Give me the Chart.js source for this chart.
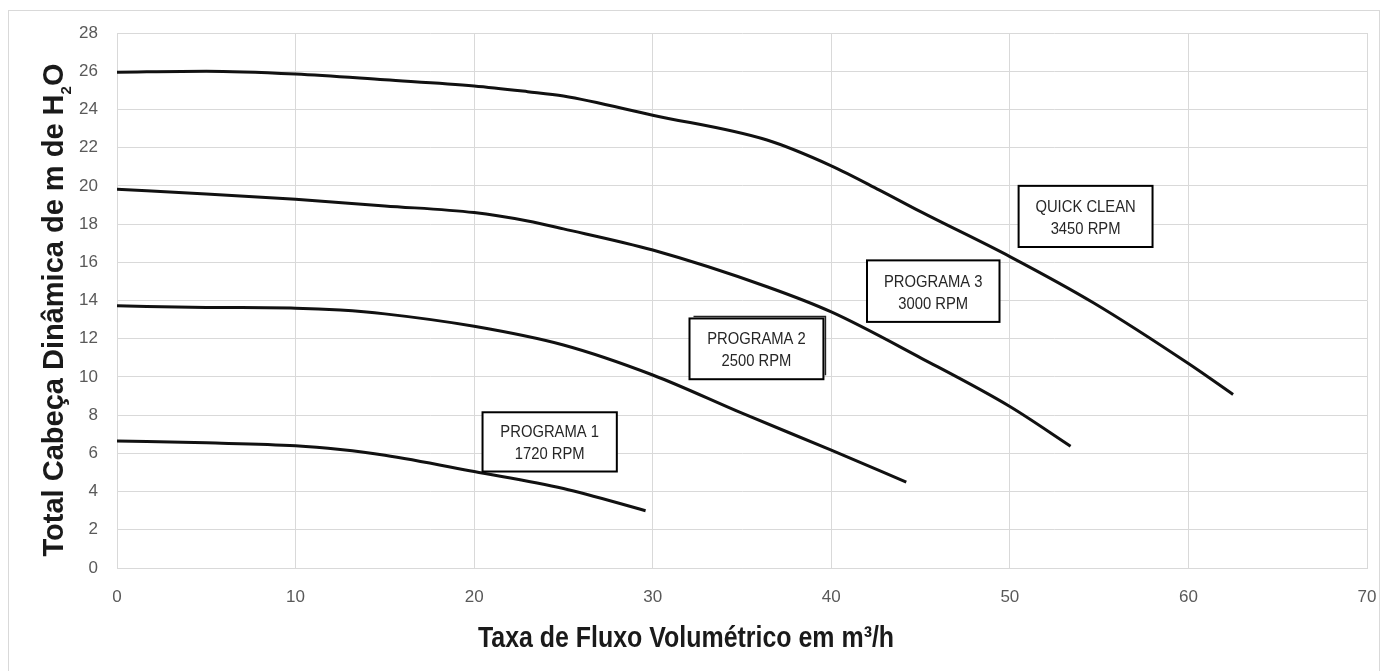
<!DOCTYPE html>
<html>
<head>
<meta charset="utf-8">
<script src="https://cdn.jsdelivr.net/npm/chart.js@4.4.1/dist/chart.umd.min.js"></script>
<style>
  html, body { margin: 0; padding: 0; background: #ffffff; }
  #wrap { width: 1388px; height: 671px; }
</style>
</head>
<body>
<div id="wrap"><canvas id="c" width="1388" height="671"></canvas></div>
<script>
// ---- data ----
const xTicks = [0, 10, 20, 30, 40, 50, 60, 70];
const yTicks = [0, 2, 4, 6, 8, 10, 12, 14, 16, 18, 20, 22, 24, 26, 28];

const flowP1 = [0, 5, 10, 12.5, 15, 20, 25, 29.6];
const headP1 = [6.65, 6.55, 6.4, 6.2, 5.9, 5.05, 4.16, 3.0];

const flowP2 = [0, 5, 10, 12.5, 15, 20, 25, 30, 35, 40, 44.2];
const headP2 = [13.72, 13.64, 13.6, 13.5, 13.3, 12.65, 11.67, 10.1, 8.1, 6.17, 4.5];

const flowP3 = [0, 5, 10, 15, 20, 23, 25, 30, 36.4, 40, 45, 50, 53.4];
const headP3 = [19.82, 19.58, 19.3, 18.95, 18.6, 18.16, 17.75, 16.64, 14.72, 13.4, 11.0, 8.45, 6.37];

const flowQC = [0, 5, 10, 15, 20, 23, 25, 30, 36.4, 40, 42.7, 45, 50, 54.7, 60, 62.5];
const headQC = [25.95, 26.0, 25.85, 25.55, 25.23, 24.93, 24.7, 23.7, 22.4, 21.05, 19.78, 18.65, 16.3, 13.87, 10.7, 9.08];

const seriesNames = ['PROGRAMA 1', 'PROGRAMA 2', 'PROGRAMA 3', 'QUICK CLEAN'];
const seriesRpm = ['1720 RPM', '2500 RPM', '3000 RPM', '3450 RPM'];

const xTitle = 'Taxa de Fluxo Volumétrico em m³/h';
const yTitleMain = 'Total Cabeça Dinâmica de m de H';
const yTitleSub = '2';
const yTitleEnd = 'O';

// ---- build ----
function pts(xs, ys) { return xs.map((x, i) => ({ x: x, y: ys[i] })); }

const curveStyle = {
  showLine: true,
  borderColor: '#111111',
  borderWidth: 3,
  pointRadius: 0,
  pointHoverRadius: 0,
  fill: false,
  cubicInterpolationMode: 'monotone'
};

const datasets = [
  Object.assign({ label: seriesNames[0], data: pts(flowP1, headP1) }, curveStyle),
  Object.assign({ label: seriesNames[1], data: pts(flowP2, headP2) }, curveStyle),
  Object.assign({ label: seriesNames[2], data: pts(flowP3, headP3) }, curveStyle),
  Object.assign({ label: seriesNames[3], data: pts(flowQC, headQC) }, curveStyle)
];

// label boxes in data coordinates (corners)
const boxes = [
  { x0: 20.47, x1: 27.99, y0: 8.15, y1: 5.05, lines: [seriesNames[0], seriesRpm[0]] },
  { x0: 32.06, x1: 39.56, y0: 13.06, y1: 9.88, lines: [seriesNames[1], seriesRpm[1]], shadow: true },
  { x0: 42.0, x1: 49.42, y0: 16.1, y1: 12.88, lines: [seriesNames[2], seriesRpm[2]] },
  { x0: 50.49, x1: 57.99, y0: 20.0, y1: 16.8, lines: [seriesNames[3], seriesRpm[3]] }
];

const FONT = '"Liberation Sans", Arial, Helvetica, sans-serif';

const framePlugin = {
  id: 'frame',
  beforeDraw(chart) {
    const ctx = chart.ctx;
    ctx.save();
    ctx.fillStyle = '#ffffff';
    ctx.fillRect(0, 0, chart.width, chart.height);
    ctx.strokeStyle = '#d9d9d9';
    ctx.lineWidth = 1;
    ctx.strokeRect(8.5, 10.5, chart.width - 17, chart.height + 20);
    ctx.restore();
  }
};

const boxPlugin = {
  id: 'boxes',
  afterDatasetsDraw(chart) {
    const ctx = chart.ctx;
    const xs = chart.scales.x, ys = chart.scales.y;
    ctx.save();
    boxes.forEach(b => {
      const l = xs.getPixelForValue(b.x0), r = xs.getPixelForValue(b.x1);
      const t = ys.getPixelForValue(b.y0), bt = ys.getPixelForValue(b.y1);
      if (b.shadow) {
        ctx.strokeStyle = '#222';
        ctx.lineWidth = 1.5;
        ctx.beginPath();
        ctx.moveTo(l + 4, t - 2);
        ctx.lineTo(r + 2, t - 2);
        ctx.lineTo(r + 2, bt - 4);
        ctx.stroke();
      }
      ctx.fillStyle = '#ffffff';
      ctx.fillRect(l, t, r - l, bt - t);
      ctx.strokeStyle = '#000000';
      ctx.lineWidth = 2;
      ctx.strokeRect(l, t, r - l, bt - t);
      const cx = (l + r) / 2, cy = (t + bt) / 2;
      ctx.fillStyle = '#262626';
      ctx.font = '17px ' + FONT;
      ctx.textAlign = 'center';
      ctx.textBaseline = 'alphabetic';
      [[b.lines[0], cy - 4.5], [b.lines[1], cy + 17.5]].forEach(([txt, by]) => {
        ctx.save();
        ctx.translate(cx, by);
        ctx.scale(0.87, 1);
        ctx.fillText(txt, 0, 0);
        ctx.restore();
      });
    });
    ctx.restore();
  }
};

const titlePlugin = {
  id: 'titles',
  afterDraw(chart) {
    const ctx = chart.ctx;
    ctx.save();
    ctx.fillStyle = '#1a1a1a';
    // x title
    ctx.font = 'bold 29px ' + FONT;
    ctx.textAlign = 'center';
    ctx.textBaseline = 'alphabetic';
    ctx.save();
    ctx.translate(686, 647);
    ctx.scale(0.86, 1);
    ctx.fillText(xTitle, 0, 0);
    ctx.restore();

    // y title (rotated) with subscript
    const mainFont = 'bold 29px ' + FONT;
    const subFont = 'bold 15px ' + FONT;
    ctx.font = mainFont;
    const w1 = ctx.measureText(yTitleMain).width;
    const w3 = ctx.measureText(yTitleEnd).width;
    ctx.font = subFont;
    const w2 = ctx.measureText(yTitleSub).width;
    const total = w1 + w2 + w3;
    ctx.translate(63, 310);
    ctx.rotate(-Math.PI / 2);
    ctx.textAlign = 'left';
    let x = -total / 2;
    ctx.font = mainFont;
    ctx.fillText(yTitleMain, x, 0);
    x += w1;
    ctx.font = subFont;
    ctx.fillText(yTitleSub, x, 8);
    x += w2;
    ctx.font = mainFont;
    ctx.fillText(yTitleEnd, x, 0);
    ctx.restore();
  }
};

new Chart(document.getElementById('c'), {
  type: 'scatter',
  data: { datasets: datasets },
  options: {
    responsive: false,
    animation: false,
    events: [],
    layout: { padding: { top: 33, right: 21, left: 0, bottom: 0 } },
    plugins: { legend: { display: false }, tooltip: { enabled: false }, title: { display: false } },
    scales: {
      x: {
        type: 'linear',
        min: xTicks[0],
        max: xTicks[xTicks.length - 1],
        afterBuildTicks(scale) { scale.ticks = xTicks.map(v => ({ value: v })); },
        afterFit(scale) { scale.height = 103; scale.paddingRight = 0; scale.paddingLeft = 0; },
        ticks: { color: '#595959', font: { family: FONT, size: 17 }, padding: 19, maxRotation: 0 },
        grid: { color: '#d9d9d9', lineWidth: 1, drawTicks: false },
        border: { color: '#d9d9d9', width: 1 }
      },
      y: {
        type: 'linear',
        min: yTicks[0],
        max: yTicks[yTicks.length - 1],
        afterBuildTicks(scale) { scale.ticks = yTicks.map(v => ({ value: v })); },
        afterFit(scale) { scale.width = 117; scale.paddingTop = 0; scale.paddingBottom = 0; },
        ticks: { color: '#595959', font: { family: FONT, size: 17 }, padding: 19 },
        grid: { color: '#d9d9d9', lineWidth: 1, drawTicks: false },
        border: { color: '#d9d9d9', width: 1 }
      }
    }
  },
  plugins: [framePlugin, boxPlugin, titlePlugin]
});
</script>
</body>
</html>
